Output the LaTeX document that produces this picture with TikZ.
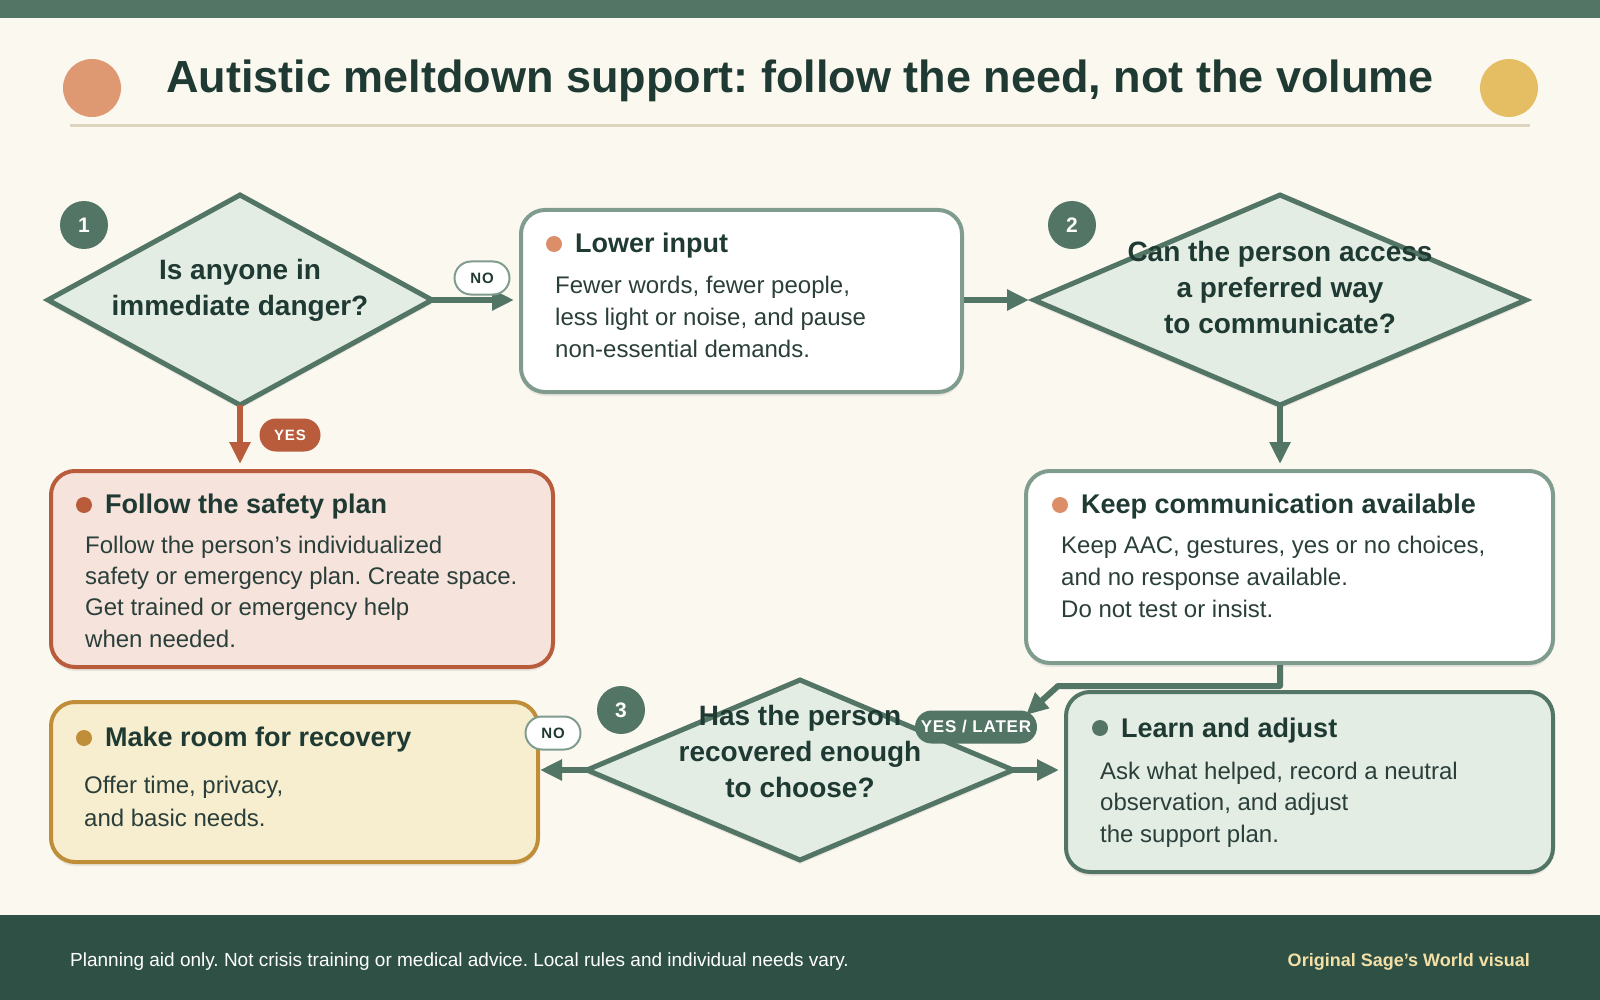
\documentclass[tikz,border=0pt]{standalone}
\usepackage{fontspec}
\setmainfont{Liberation Sans}
\usetikzlibrary{shapes.geometric,arrows.meta,shadows}
\definecolor{bg}{HTML}{FBF8F0}
\definecolor{sage}{HTML}{537566}
\definecolor{sagelight}{HTML}{E3EDE4}
\definecolor{sagegrey}{HTML}{7F9C8E}
\definecolor{ink}{HTML}{1F3A33}
\definecolor{bodyink}{HTML}{2B3F3A}
\definecolor{rust}{HTML}{B85C3C}
\definecolor{rustlight}{HTML}{F6E3DC}
\definecolor{gold}{HTML}{C08D38}
\definecolor{goldlight}{HTML}{F7EDCF}
\definecolor{salmon}{HTML}{DE9872}
\definecolor{mustard}{HTML}{E5BE64}
\definecolor{footer}{HTML}{2F5045}
\definecolor{rulecol}{HTML}{DDD4C0}
\definecolor{creamtxt}{HTML}{F3E0A6}
\definecolor{dotorange}{HTML}{DC8E68}
\newcommand\bodyln[3]{\node[bodytext] (#1) at (#2) {#3};}
\frenchspacing
\begin{document}
\begin{tikzpicture}[x=1pt,y=-1pt,
  shadowed/.style={drop shadow={shadow xshift=0pt,shadow yshift=-4pt,opacity=0.07,fill=black}},
  decision/.style={diamond,draw=sage,fill=sagelight,line width=5pt,inner sep=0pt,outer sep=0pt,shadowed},
  qtext/.style={font=\fontsize{28}{36}\selectfont\bfseries,text=ink,align=center},
  cardbox/.style={rectangle,rounded corners=24pt,line width=4pt,inner sep=0pt,anchor=north west,shadowed},
  cardtitle/.style={anchor=base west,font=\fontsize{27}{30}\selectfont\bfseries,text=ink,inner sep=0pt},
  bodytext/.style={anchor=base west,font=\fontsize{24}{32}\selectfont,text=bodyink,inner sep=0pt},
  dotmark/.style={circle,inner sep=0pt,minimum size=16pt},
  badge/.style={circle,fill=sage,text=white,minimum size=48pt,inner sep=0pt,font=\fontsize{21}{21}\selectfont\bfseries},
  flow/.style={draw=sage,line width=6pt,-{Triangle[length=22pt,width=20pt]},shorten >=5pt},
  pill/.style={rounded corners=16.5pt,minimum height=33pt,inner sep=0pt,font=\fontsize{15}{15}\selectfont\bfseries\addfontfeature{LetterSpace=6}},
  nopill/.style={pill,draw=sagegrey,fill=white,line width=2pt,minimum width=55pt,text=ink}
]
\path[use as bounding box] (0,0) rectangle (1600,1000);
\fill[bg] (0,0) rectangle (1600,1000);
\fill[sage] (0,0) rectangle (1600,18);
\fill[footer] (0,915) rectangle (1600,1000);
\draw[rulecol,line width=3pt] (70,125.5) -- (1530,125.5);

% header
\node[circle,fill=salmon,minimum size=58pt,inner sep=0pt] (cl) at (92,88) {};
\node[circle,fill=mustard,minimum size=58pt,inner sep=0pt] (cr) at (1509,88) {};
\node[anchor=base,font=\fontsize{45}{50}\selectfont\bfseries,text=ink,inner sep=0pt] (title) at (800,93) {Autistic meltdown support: follow the need, not the volume};

% decisions
\node[decision,minimum width=384pt,minimum height=210pt] (d1) at (240,300) {};
\node[decision,minimum width=492pt,minimum height=210pt] (d2) at (1280,300) {};
\node[decision,minimum width=426pt,minimum height=180pt] (d3) at (800,770) {};

% cards
\node[cardbox,draw=sagegrey,fill=white,minimum width=441pt,minimum height=182pt] (li) at (519,208) {};
\node[cardbox,draw=rust,fill=rustlight,minimum width=502pt,minimum height=196pt] (sp) at (49,469) {};
\node[cardbox,draw=sagegrey,fill=white,minimum width=527pt,minimum height=192pt] (kc) at (1024,469) {};
\node[cardbox,draw=gold,fill=goldlight,minimum width=487pt,minimum height=160pt] (mr) at (49,700) {};
\node[cardbox,draw=sage,fill=sagelight,minimum width=487pt,minimum height=180pt] (la) at (1064,690) {};

% connectors
\draw[flow] (d1.east) -- (li.west |- d1.east);
\draw[flow,draw=rust] (d1.south) -- (d1.south |- sp.north);
\draw[flow] (d2.west -| li.east) -- (d2.west);
\draw[flow] (d2.south) -- (d2.south |- kc.north);
\coordinate (kcb1) at (1280,686);
\coordinate (kcb2) at (1058,686);
\coordinate (kcend) at (1026,715);
\draw[flow,shorten >=0pt,line join=round] (kcb1 |- kc.south) -- (kcb1) -- (kcb2) -- (kcend);
\draw[flow] (d3.east) -- (la.west |- d3.east);
\draw[flow,shorten >=0pt] (d3.west) -- (mr.east |- d3.west);

% question texts
\node[qtext] (q1) at (240,290) {Is anyone in\\immediate danger?};
\node[qtext] (q2) at (1280,287) {Can the person access\\a preferred way\\to communicate?};
\node[qtext] (q3) at (800,751) {Has the person\\recovered enough\\to choose?};

% badges
\node[badge] (b1) at (84,225) {1};
\node[badge] (b2) at (1072,225) {2};
\node[badge] (b3) at (621,710) {3};

% card contents
\node[dotmark,fill=dotorange] (lidot) at (554,244) {};
\node[cardtitle] (lit) at (575,253) {Lower input};
\bodyln{li1}{555,293}{Fewer words, fewer people,}
\bodyln{li2}{555,325}{less light or noise, and pause}
\bodyln{li3}{555,357}{non-essential demands.}

\node[dotmark,fill=rust] (spdot) at (84,505) {};
\node[cardtitle] (spt) at (105,513) {Follow the safety plan};
\bodyln{sp1}{85,553}{Follow the person’s individualized}
\bodyln{sp2}{85,584}{safety or emergency plan. Create space.}
\bodyln{sp3}{85,615}{Get trained or emergency help}
\bodyln{sp4}{85,647}{when needed.}

\node[dotmark,fill=dotorange] (kcdot) at (1060,505) {};
\node[cardtitle] (kct) at (1081,513) {Keep communication available};
\bodyln{kc1}{1061,553}{Keep AAC, gestures, yes or no choices,}
\bodyln{kc2}{1061,585}{and no response available.}
\bodyln{kc3}{1061,617}{Do not test or insist.}

\node[dotmark,fill=gold] (mrdot) at (84,738) {};
\node[cardtitle] (mrt) at (105,746) {Make room for recovery};
\bodyln{mr1}{84,793}{Offer time, privacy,}
\bodyln{mr2}{84,826}{and basic needs.}

\node[dotmark,fill=sage] (ladot) at (1100,728) {};
\node[cardtitle] (lat) at (1121,737) {Learn and adjust};
\bodyln{la1}{1100,779}{Ask what helped, record a neutral}
\bodyln{la2}{1100,810}{observation, and adjust}
\bodyln{la3}{1100,842}{the support plan.}

% labels
\node[nopill] (no1) at (482,278) {NO};
\node[pill,fill=rust,text=white,minimum width=61pt] (yes1) at (290,435) {YES};
\node[nopill] (no3) at (553,733) {NO};
\node[pill,fill=sage,text=white,minimum width=122pt,font=\fontsize{17}{17}\selectfont\bfseries\addfontfeature{LetterSpace=5}] (yl) at (976,727) {YES / LATER};

% footer
\node[anchor=base west,font=\fontsize{19}{22}\selectfont,text=white,inner sep=0pt] (foot) at (70,966) {Planning aid only. Not crisis training or medical advice. Local rules and individual needs vary.};
\node[anchor=base east,font=\fontsize{18}{20}\selectfont\bfseries,text=creamtxt,inner sep=0pt] (credit) at (1530,966) {Original Sage’s World visual};
\end{tikzpicture}
\end{document}
